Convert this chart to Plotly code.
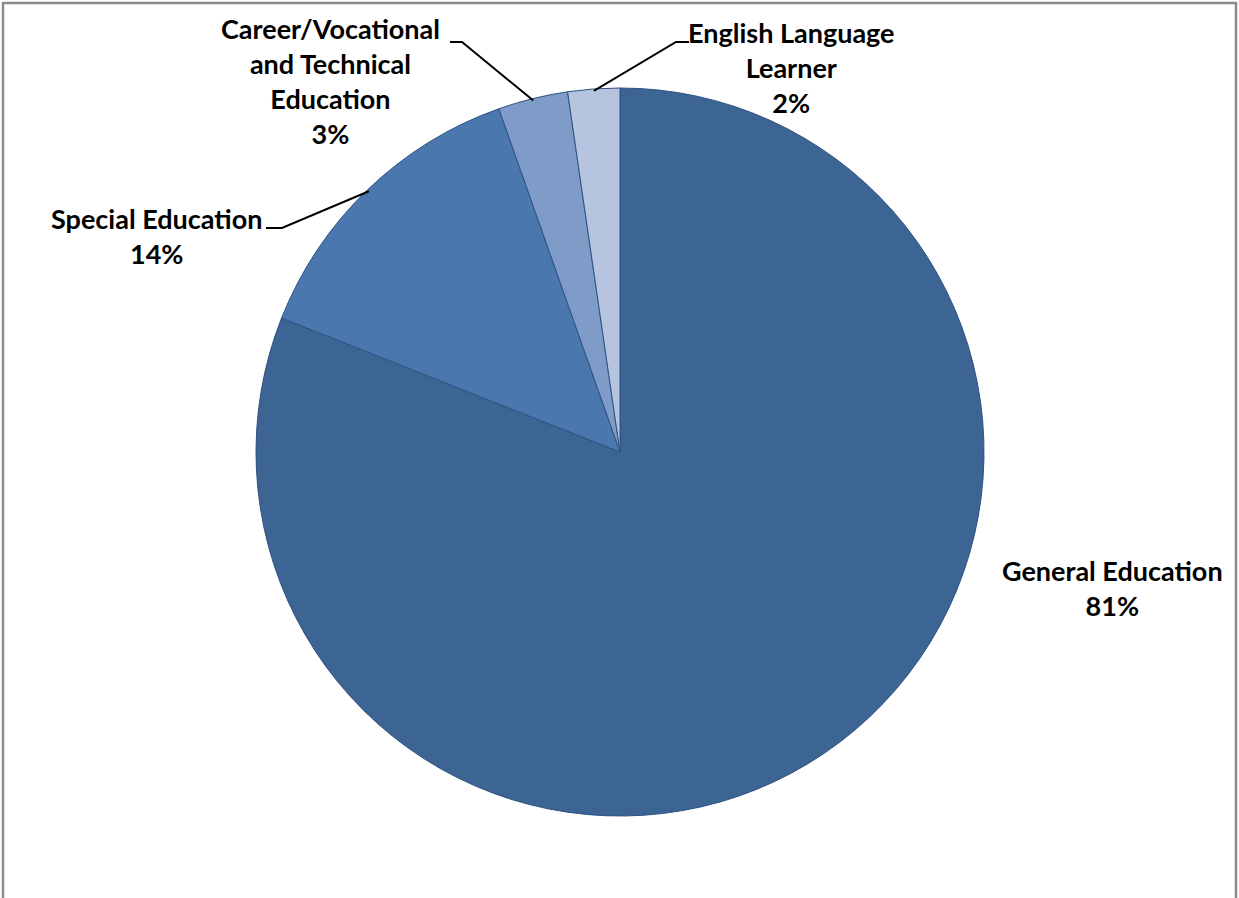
import math
import plotly.graph_objects as go

# data
labels = ["General Education", "Special Education",
          "Career/Vocational and Technical Education", "English Language Learner"]
label_text = ["General Education", "Special Education",
              "Career/Vocational<br>and Technical<br>Education", "English Language<br>Learner"]
values = [81.0, 13.6, 3.1, 2.3]
colors = ["#3D6594", "#4A77AE", "#7F9CC8", "#B6C4DF"]

W, H = 1239, 898
cx, cy, r = 620, 452, 364          # pie centre / radius in pixels

def px(x, y):                      # pixel -> paper
    return x / W, 1 - y / H

fig = go.Figure(go.Pie(
    labels=labels, values=values, sort=False, direction="clockwise", rotation=0,
    marker=dict(colors=colors, line=dict(color="#2E5283", width=1)),
    textinfo="none", hoverinfo="label+percent", showlegend=False,
    domain=dict(x=[(cx - r) / W, (cx + r) / W], y=[1 - (cy + r) / H, 1 - (cy - r) / H]),
))

# label block centres (pixels) and leader elbows (None = no leader)
label_pos = [(1112, 588), (156, 236), (330, 81), (791, 68)]
elbows = [None, [(266, 228), (282, 228)], [(450, 42), (462, 42)], [(689, 42), (676, 42)]]

total = sum(values)
start = 0.0
for i, v in enumerate(values):
    mid = start + v / total * 360 / 2
    start += v / total * 360
    pct = round(v / total * 100)
    x, y = label_pos[i]
    ax, ay = px(x, y)
    fig.add_annotation(x=ax, y=ay, xref="paper", yref="paper", showarrow=False,
                       text="<b>%s<br>%d%%</b>" % (label_text[i], pct), align="center",
                       xanchor="center", yanchor="middle",
                       font=dict(family="Lato", size=27, color="black"))
    if elbows[i]:
        ex = cx + (r - 2) * math.sin(math.radians(mid))
        ey = cy - (r - 2) * math.cos(math.radians(mid))
        pts = elbows[i] + [(ex, ey)]
        path = "M " + " L ".join("%f,%f" % px(a, b) for a, b in pts)
        fig.add_shape(type="path", path=path, xref="paper", yref="paper",
                      line=dict(color="black", width=2))

# outer frame (bottom edge falls outside the picture)
frame = [(3, H + 5), (3, 3), (1236, 3), (1236, H + 5)]
fig.add_shape(type="path", xref="paper", yref="paper",
              path="M " + " L ".join("%f,%f" % px(a, b) for a, b in frame),
              line=dict(color="#8C8C8C", width=2.5))

fig.update_layout(width=W, height=H, margin=dict(l=0, r=0, t=0, b=0),
                  paper_bgcolor="white", plot_bgcolor="white")
fig.write_html("out.html", config={"displayModeBar": False},
               post_script="document.body.style.margin='0px';")
